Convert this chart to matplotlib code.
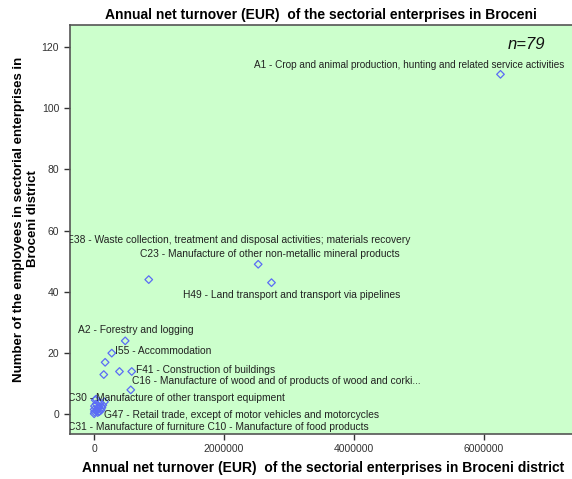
import matplotlib
matplotlib.use("Agg")
import matplotlib.pyplot as plt

# Data: annual net turnover (EUR) vs number of employees
turnover = [6260000, 841000, 2527000, 2732000, 478000, 271000, 169000, 148000,
            390000, 579000, 564000, 31000,
            15000, 92000, 159000, 133000, 5000, 55000, 108000, 5000, 55000, 0,
            75000, 120000, 30000, 0, 80000, 40000]
employees = [111, 44, 49, 43, 24, 20, 17, 13,
             14, 14, 8, 5,
             4.7, 3.8, 4.1, 3.0, 2.7, 2.0, 1.4, 0.8, 0.6, 1.6,
             2.6, 2.2, 3.4, 0.2, 0.9, 1.2]

labels = ["A1 - Crop and animal production, hunting and related service activities",
          "E38 - Waste collection, treatment and disposal activities; materials recovery",
          "C23 - Manufacture of other non-metallic mineral products",
          "H49 - Land transport and transport via pipelines",
          "A2 - Forestry and logging",
          "I55 - Accommodation",
          "F41 - Construction of buildings",
          "C16 - Manufacture of wood and of products of wood and corki...",
          "C30 - Manufacture of other transport equipment",
          "G47 - Retail trade, except of motor vehicles and motorcycles",
          "C31 - Manufacture of furniture C10 - Manufacture of food products"]
# label anchor positions (data coordinates: turnover, employees)
label_x = [2470000, -420000, 700000, 1370000, -250000, 320000, 640000, 590000, -400000, 150000, -400000]
label_y = [114, 57, 52.5, 39, 27.5, 20.6, 14.6, 10.8, 5.4, -0.1, -4.2]

xticks = [0, 2000000, 4000000, 6000000]
yticks = [0, 20, 40, 60, 80, 100, 120]

fig = plt.figure(figsize=(5.72, 4.79), dpi=100)
ax = fig.add_axes([69.5 / 572, 45 / 479, (572 - 69.5) / 572 + 0.01, (434 - 25) / 479])
ax.set_facecolor("#ccffcc")

ax.scatter(turnover, employees, marker="D", s=15, facecolors="none",
           edgecolors="#5b6cf5", linewidths=0.9, zorder=3)

for i, (t, lx, ly) in enumerate(zip(labels, label_x, label_y)):
    ax.text(lx, ly, t, fontsize=7.2 if i == 0 else 7.4, family="Liberation Sans",
            color="#222222", va="center", ha="left", zorder=4, clip_on=True)

ax.text(6370000, 120.6, "n=79", fontsize=12, style="italic", family="Liberation Sans",
        color="#111111", va="center", ha="left")

ax.set_xlim(-380000, 7450000)
ax.set_ylim(-6.4, 127.1)
ax.set_xticks(xticks)
ax.set_xticklabels([str(v) for v in xticks])
ax.set_yticks(yticks)
ax.tick_params(axis="both", labelsize=7.5, colors="#333333", length=4, width=1, direction="out")
for lab in ax.get_xticklabels() + ax.get_yticklabels():
    lab.set_family("Liberation Sans")
for s in ["left", "bottom", "right", "top"]:
    ax.spines[s].set_color("#555555")
    ax.spines[s].set_linewidth(1.2)

ax.set_title("Annual net turnover (EUR)  of the sectorial enterprises in Broceni",
             fontsize=10, fontweight="bold", family="Liberation Sans", pad=4, x=0.5 - 0.005)
ax.set_xlabel("Annual net turnover (EUR)  of the sectorial enterprises in Broceni district",
              fontsize=10, fontweight="bold", family="Liberation Sans", labelpad=5)
fig.text(26 / 572, 1 - 219 / 479,
         "Number of the employees in sectorial enterprises in\nBroceni district",
         rotation=90, fontsize=9.5, fontweight="bold", family="Liberation Sans",
         ha="center", va="center", multialignment="center")

fig.savefig("out.png", dpi=100)
